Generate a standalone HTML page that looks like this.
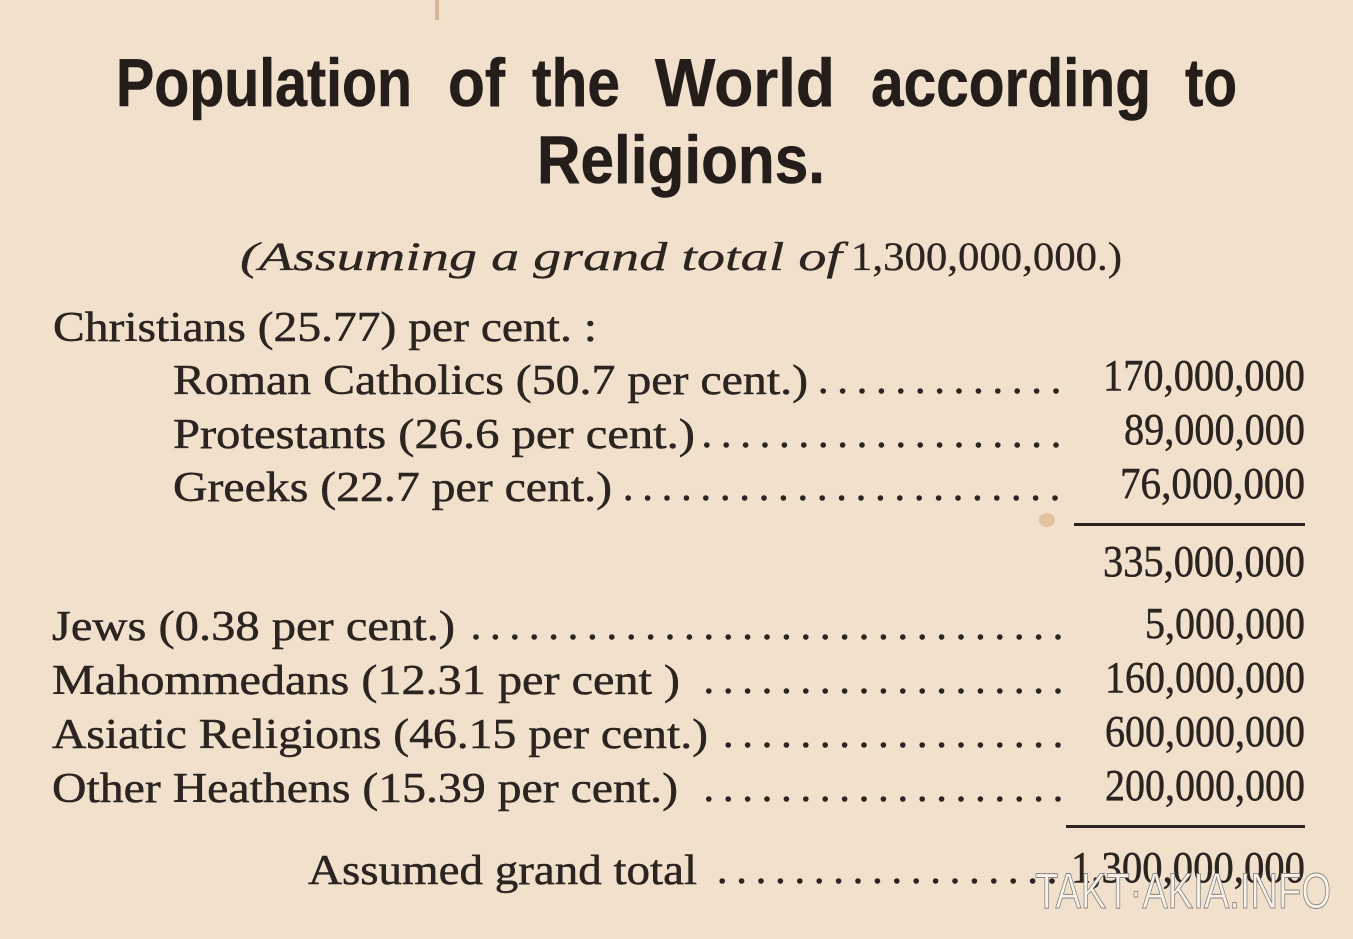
<!DOCTYPE html>
<html><head><meta charset="utf-8"><style>
html,body{margin:0;padding:0;background:#f1e1cc;}
svg{display:block;}
</style></head><body>
<svg width="1353" height="939" viewBox="0 0 1353 939" xmlns="http://www.w3.org/2000/svg">
<rect width="1353" height="939" fill="#f1e1cc"/>
<rect x="435" y="0" width="4" height="20" fill="#c9a27e" opacity="0.7"/>
<ellipse cx="1047" cy="520" rx="8" ry="7" fill="#e3b994" opacity="0.8"/>
<g fill="#241d19" stroke="#241d19" stroke-width="0.6" font-family="'Liberation Sans', sans-serif" font-weight="bold" font-size="68">
<text x="116" y="106" textLength="296" lengthAdjust="spacingAndGlyphs">Population</text>
<text x="448" y="106" textLength="57" lengthAdjust="spacingAndGlyphs">of</text>
<text x="532" y="106" textLength="88" lengthAdjust="spacingAndGlyphs">the</text>
<text x="655" y="106" textLength="180" lengthAdjust="spacingAndGlyphs">World</text>
<text x="871" y="106" textLength="280" lengthAdjust="spacingAndGlyphs">according</text>
<text x="1185" y="106" textLength="52" lengthAdjust="spacingAndGlyphs">to</text>
<text x="537" y="183" textLength="288" lengthAdjust="spacingAndGlyphs">Religions.</text>
</g>
<g fill="#2b2420" stroke="#2b2420" stroke-width="0.5" font-family="'Liberation Serif', serif" font-size="42">
<text x="240" y="270" font-size="40" font-style="italic" stroke-width="0.3" textLength="602" lengthAdjust="spacingAndGlyphs">(Assuming a grand total of</text>
<text x="851" y="270" font-size="40" stroke-width="0.3" textLength="271" lengthAdjust="spacingAndGlyphs">1,300,000,000.)</text>

<text x="53" y="341" textLength="544" lengthAdjust="spacingAndGlyphs">Christians (25.77) per cent. :</text>
<text x="173" y="394" textLength="635" lengthAdjust="spacingAndGlyphs">Roman Catholics (50.7 per cent.)</text>
<text x="173" y="448" textLength="522" lengthAdjust="spacingAndGlyphs">Protestants (26.6 per cent.)</text>
<text x="173" y="501" textLength="439" lengthAdjust="spacingAndGlyphs">Greeks (22.7 per cent.)</text>
<text x="52" y="640" textLength="403" lengthAdjust="spacingAndGlyphs">Jews (0.38 per cent.)</text>
<text x="52" y="694" textLength="628" lengthAdjust="spacingAndGlyphs">Mahommedans  (12.31 per cent )</text>
<text x="52" y="748" textLength="656" lengthAdjust="spacingAndGlyphs">Asiatic Religions (46.15 per cent.)</text>
<text x="52" y="802" textLength="626" lengthAdjust="spacingAndGlyphs">Other Heathens (15.39 per cent.)</text>
<text x="308" y="884" textLength="389" lengthAdjust="spacingAndGlyphs">Assumed grand total</text>

<text x="1103" y="390" font-size="44" textLength="202" lengthAdjust="spacingAndGlyphs">170,000,000</text>
<text x="1124" y="444" font-size="44" textLength="181" lengthAdjust="spacingAndGlyphs">89,000,000</text>
<text x="1120" y="498" font-size="44" textLength="185" lengthAdjust="spacingAndGlyphs">76,000,000</text>
<text x="1103" y="576" font-size="44" textLength="202" lengthAdjust="spacingAndGlyphs">335,000,000</text>
<text x="1145" y="638" font-size="44" textLength="160" lengthAdjust="spacingAndGlyphs">5,000,000</text>
<text x="1105" y="692" font-size="44" textLength="200" lengthAdjust="spacingAndGlyphs">160,000,000</text>
<text x="1105" y="746" font-size="44" textLength="200" lengthAdjust="spacingAndGlyphs">600,000,000</text>
<text x="1105" y="800" font-size="44" textLength="200" lengthAdjust="spacingAndGlyphs">200,000,000</text>
<text x="1071" y="882" font-size="44" textLength="234" lengthAdjust="spacingAndGlyphs">1,300,000,000</text>
</g>
<g fill="#2b2420">
<rect x="1074" y="523" width="231" height="3"/>
<rect x="1066" y="825" width="239" height="3"/>
</g>
<g fill="#2b2420" id="dots"></g>
<text x="1035" y="908" font-family="'Liberation Sans', sans-serif" font-size="50" fill="#faf3ea" stroke="#8a8580" stroke-width="1" textLength="296" lengthAdjust="spacingAndGlyphs">TAKT·AKIA.INFO</text>
</svg>
<script>
(function(){
var g=document.getElementById('dots');
var rows=[[818,1056,391],[705,1056,445],[622,1055,498],[466,1058,637],[692,1058,691],[718,1058,745],[690,1058,799],[708,1052,881]];
var ns='http://www.w3.org/2000/svg';
rows.forEach(function(r){
  for(var x=r[1];x>=r[0];x-=19.4){
    var c=document.createElementNS(ns,'circle');
    c.setAttribute('cx',x.toFixed(1));c.setAttribute('cy',r[2]);c.setAttribute('r','2.8');
    g.appendChild(c);
  }
});
})();
</script>
</body></html>
